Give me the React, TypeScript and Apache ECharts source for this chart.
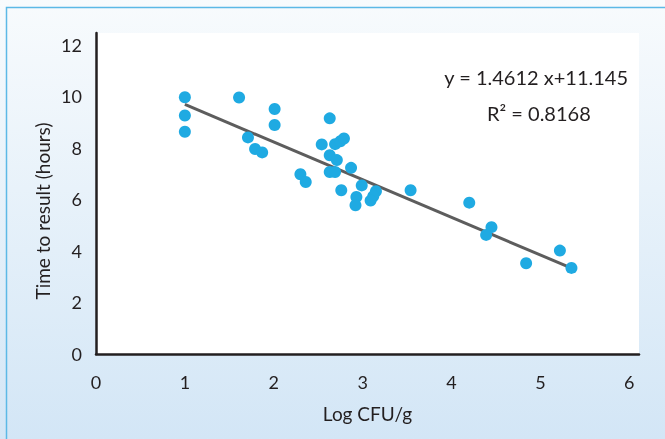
import React, { useEffect, useRef } from "react";
import * as echarts from "echarts";

const xTicks = [0, 1, 2, 3, 4, 5, 6];
const yTicks = [0, 2, 4, 6, 8, 10, 12];
const logCfu = [
  1.0, 1.0, 1.0, 1.61, 2.01, 2.01, 1.71, 1.79, 1.87, 2.3, 2.36,
  2.63, 2.54, 2.69, 2.75, 2.79, 2.63, 2.71, 2.87, 2.63, 2.69,
  2.76, 2.99, 2.93, 2.92, 3.15, 3.12, 3.09,
  3.54, 4.2, 4.45, 4.39, 5.22, 4.84, 5.35,
];
const hours = [
  9.96, 9.25, 8.62, 9.95, 9.5, 8.88, 8.4, 7.95, 7.82, 6.97, 6.67,
  9.14, 8.13, 8.14, 8.25, 8.36, 7.71, 7.52, 7.22, 7.06, 7.06,
  6.35, 6.54, 6.09, 5.77, 6.31, 6.12, 5.95,
  6.35, 5.87, 4.92, 4.62, 4.01, 3.52, 3.34,
];
const trendX = [1.0, 5.35];
const trendY = [9.68, 3.33];
const equationText = "y = 1.4612 x+11.145";
const r2Text = "R² = 0.8168";
const xTitle = "Log CFU/g";
const yTitle = "Time to result (hours)";

const FONT = "Lato, 'Open Sans', sans-serif";
const INK = "#231f20";

export default function App() {
  const ref = useRef<HTMLDivElement>(null);
  useEffect(() => {
    if (!ref.current) return;
    const chart = echarts.init(ref.current, undefined, { renderer: "svg" });
    const points = logCfu.map((x, i) => [x, hours[i]]);
    const trend = trendX.map((x, i) => [x, trendY[i]]);
    chart.setOption({
      animation: false,
      textStyle: { fontFamily: FONT },
      graphic: [
        {
          type: "rect",
          z: -10,
          silent: true,
          shape: { x: 0, y: 0, width: 665, height: 439 },
          style: {
            fill: new echarts.graphic.LinearGradient(0, 0, 0, 1, [
              { offset: 0, color: "#f8fbfd" },
              { offset: 1, color: "#d3e6f6" },
            ]),
          },
        },
        {
          type: "rect",
          z: -9,
          silent: true,
          shape: { x: 6.5, y: 7.5, width: 700, height: 500 },
          style: { fill: "none", stroke: "#5cb9e6", lineWidth: 1.5 },
        },
        {
          type: "text",
          x: 628,
          y: 77,
          style: {
            text: equationText,
            fontSize: 20,
            fill: INK,
            fontFamily: FONT,
            align: "right",
            verticalAlign: "middle",
          },
        },
        {
          type: "text",
          x: 487,
          y: 113,
          style: {
            text: r2Text,
            fontSize: 20,
            fill: INK,
            fontFamily: FONT,
            align: "left",
            verticalAlign: "middle",
          },
        },
        {
          type: "text",
          x: 42,
          y: 211,
          rotation: Math.PI / 2,
          style: {
            text: yTitle,
            fontSize: 19,
            fill: INK,
            fontFamily: FONT,
            align: "center",
            verticalAlign: "middle",
          },
        },
      ],
      grid: {
        left: 96,
        right: 26,
        top: 33,
        bottom: 85,
        show: true,
        backgroundColor: "#ffffff",
        borderWidth: 0,
      },
      xAxis: {
        type: "value",
        min: 0,
        max: 6.11,
        interval: 1,
        name: xTitle,
        nameLocation: "middle",
        nameGap: 50,
        nameTextStyle: { fontSize: 19, color: INK, fontFamily: FONT },
        axisLine: { show: true, lineStyle: { color: INK, width: 2.5 } },
        axisTick: { show: false },
        splitLine: { show: false },
        axisLabel: {
          fontSize: 18,
          color: INK,
          margin: 19,
          fontFamily: FONT,
          formatter: (v: number) => (xTicks.includes(Math.round(v * 1000) / 1000) ? String(v) : ""),
        },
      },
      yAxis: {
        type: "value",
        min: 0,
        max: 12.45,
        interval: 2,
        axisLine: { show: true, lineStyle: { color: INK, width: 2.5 } },
        axisTick: { show: false },
        splitLine: { show: false },
        axisLabel: {
          fontSize: 18,
          color: INK,
          margin: 14,
          fontFamily: FONT,
          formatter: (v: number) => (yTicks.includes(Math.round(v * 1000) / 1000) ? String(v) : ""),
        },
      },
      series: [
        {
          type: "line",
          data: trend,
          symbol: "none",
          lineStyle: { color: "#5d5d5d", width: 3 },
          z: 3,
          silent: true,
        },
        {
          type: "scatter",
          data: points,
          symbolSize: 12,
          itemStyle: { color: "#1faae2", opacity: 1 },
          z: 4,
        },
      ],
    });
    return () => chart.dispose();
  }, []);
  return (
    <div
      ref={ref}
      style={{ position: "fixed", left: 0, top: 0, width: 665, height: 439 }}
    />
  );
}
